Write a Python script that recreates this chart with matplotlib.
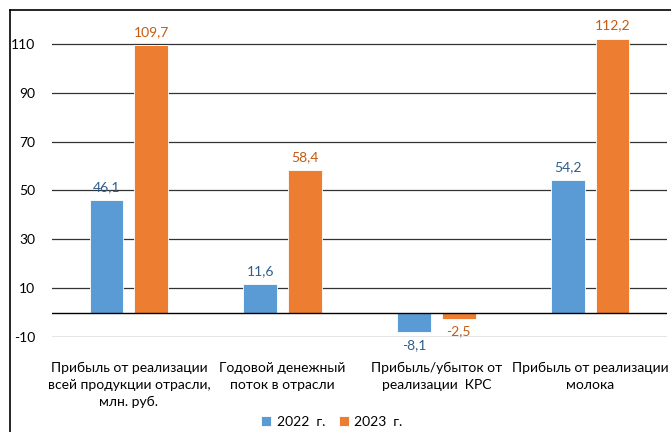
import matplotlib.pyplot as plt
import numpy as np
from matplotlib.lines import Line2D

categories = ["Прибыль от реализации\nвсей продукции отрасли,\nмлн. руб.",
              "Годовой денежный\nпоток в отрасли",
              "Прибыль/убыток от\nреализации  КРС",
              "Прибыль от реализации\nмолока"]
vals_2022 = [46.1, 11.6, -8.1, 54.2]
vals_2023 = [109.7, 58.4, -2.5, 112.2]
yticks = [-10, 10, 30, 50, 70, 90, 110]

plt.rcParams['font.family'] = ['Lato', 'DejaVu Sans']
plt.rcParams['axes.unicode_minus'] = False

fig = plt.figure(figsize=(6.71, 4.32), dpi=100)
ax = fig.add_axes([52 / 671, 1 - 337 / 432, 615 / 671, (337 - 19.5) / 432])

x = np.arange(len(categories))
w = 0.22
off = 0.145
b1 = ax.bar(x - off, vals_2022, w, color='#5B9BD5', edgecolor='white', linewidth=0.6, label='2022  г.', zorder=3)
b2 = ax.bar(x + off, vals_2023, w, color='#ED7D31', edgecolor='white', linewidth=0.6, label='2023  г.', zorder=3)

def fmt(v):
    return f"{v:.1f}".replace('.', ',')

for bars, vals, col in [(b1, vals_2022, '#2E5E8C'), (b2, vals_2023, '#C55A11')]:
    for b, v in zip(bars, vals):
        cx = b.get_x() + b.get_width() / 2
        if v >= 0:
            ax.annotate(fmt(v), (cx, v), xytext=(0, 5), textcoords='offset points',
                        ha='center', va='bottom', color=col, fontsize=10)
        else:
            ax.annotate(fmt(v), (cx, v), xytext=(0, -5), textcoords='offset points',
                        ha='center', va='top', color=col, fontsize=10)

ax.set_xlim(-0.5, 3.5)
ax.set_ylim(-10, 120)
ax.set_yticks(yticks)
for t in yticks:
    ax.axhline(t, color='#333333', linewidth=0.9, zorder=1)
ax.axhline(0, color='black', linewidth=1.0, zorder=4)

ax.set_xticks(x)
ax.set_xticklabels(categories, fontsize=10, linespacing=1.5)
ax.tick_params(axis='x', length=0, pad=18)
ax.tick_params(axis='y', length=0, pad=12, labelsize=10)
for s in ax.spines.values():
    s.set_visible(False)

fig.legend(handles=[b1, b2], loc='center', bbox_to_anchor=(332 / 671, 1 - 422 / 432),
           ncol=2, frameon=False, fontsize=10, handlelength=0.7, handleheight=0.7,
           handletextpad=0.4, columnspacing=1.0)

# outer frame (top and left edges)
fig.add_artist(Line2D([10 / 671, 10 / 671], [0, 1 - 10 / 432], color='black', linewidth=1.2))
fig.add_artist(Line2D([10 / 671, 1], [1 - 10 / 432, 1 - 10 / 432], color='black', linewidth=1.2))

fig.savefig('out.png', dpi=100)
